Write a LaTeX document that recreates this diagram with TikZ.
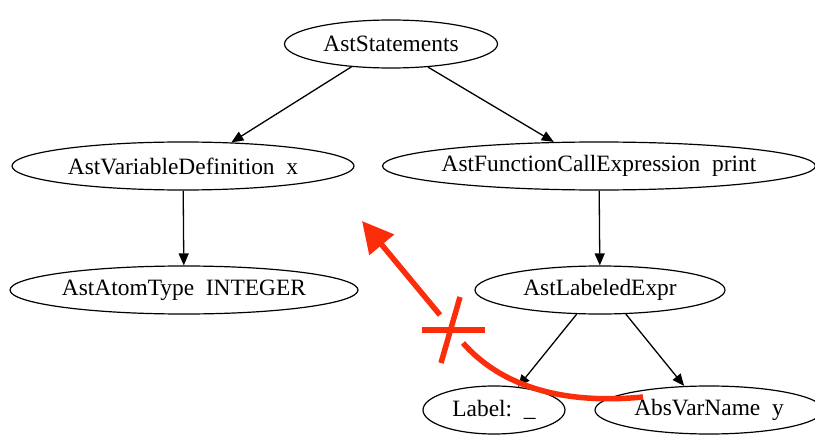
\documentclass[tikz,border=0pt]{standalone}
\usepackage{fontspec}
\setmainfont{Liberation Serif}
\usetikzlibrary{shapes.geometric,arrows.meta}
\definecolor{stopred}{RGB}{252,45,10}

\begin{document}
\begin{tikzpicture}[x=1pt, y=-1pt,
    astnode/.style = {draw, ellipse, line width=1.2pt, inner sep=-40pt,
      minimum height=48pt, font=\fontsize{23.4}{28}\selectfont},
    edge/.style = {draw, line width=1.3pt, -{Triangle[length=12pt, width=10pt]}},
    blocked/.style = {draw=stopred, line width=5.5pt}]
    \useasboundingbox (0,0) rectangle (815,436);

    \node[astnode, minimum width=213pt] (stmts) at (391, 44) {AstStatements};
    \node[astnode, minimum width=342pt] (vardef) at (183, 166) {AstVariableDefinition~~x};
    \node[astnode, minimum width=433pt] (funcall) at (599, 166) {AstFunctionCallExpression~~print};
    \node[astnode, minimum width=348pt] (atom) at (184, 290) {AstAtomType~~INTEGER};
    \node[astnode, minimum width=250pt] (labeled) at (600, 290) {AstLabeledExpr};
    \node[astnode, minimum width=142pt] (label) at (494, 410) {Label:~~\_};
    \node[astnode, minimum width=228pt] (absvar) at (709, 410) {AbsVarName~~y};

    \draw[edge] (stmts.210) -- (vardef.26);
    \draw[edge] (stmts.328) -- (funcall.152);
    \draw[edge] (vardef) -- (atom);
    \draw[edge] (funcall) -- (labeled);
    \draw[edge] (labeled.226) -- (label.44);
    \draw[edge] (labeled.317) -- (absvar.136);

    % the move that is not allowed
    \coordinate (movefrom) at (643, 397);
    \coordinate (movegap) at (463, 343);
    \coordinate (moveon) at (440, 315);
    \coordinate (moveto) at (362, 221);
    \draw[blocked] (movefrom) .. controls (560, 405) and (500, 385) .. (movegap);
    \draw[blocked, -{Triangle[length=31pt, width=31pt]}] (moveon) -- (moveto);
    \draw[blocked] (422, 330) -- (485, 330);
    \draw[blocked] (460, 297) -- (441, 363);
\end{tikzpicture}
\end{document}
